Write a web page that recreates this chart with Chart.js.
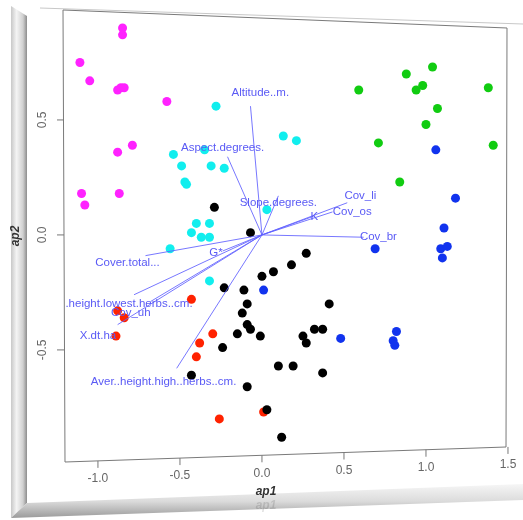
<!DOCTYPE html>
<html>
<head>
<meta charset="utf-8">
<script src="https://cdn.jsdelivr.net/npm/chart.js@4"></script>
<style>
  html, body { margin: 0; padding: 0; background: #fff; }
  #wrap { width: 523px; height: 520px; }
</style>
</head>
<body>
<div id="wrap"><canvas id="chart" width="523" height="520"></canvas></div>
<script>
// site scores, one pair of arrays per group
var magentaX = [-0.85, -0.85, -1.11, -1.05, -0.88, -0.86, -0.84, -0.58, -0.79, -0.88, -1.10, -1.08, -0.87];
var magentaY = [0.90, 0.87, 0.75, 0.67, 0.63, 0.64, 0.64, 0.58, 0.39, 0.36, 0.18, 0.13, 0.18];

var cyanX = [-0.28, -0.54, -0.35, -0.49, -0.31, -0.23, -0.47, -0.46, -0.40, -0.32, -0.43, -0.37, -0.32, -0.56, 0.03, 0.13, 0.21, -0.32];
var cyanY = [0.56, 0.35, 0.37, 0.30, 0.30, 0.29, 0.23, 0.22, 0.05, 0.05, 0.01, -0.01, -0.01, -0.06, 0.11, 0.43, 0.41, -0.20];

var greenX = [0.59, 0.88, 1.04, 0.94, 0.98, 1.38, 1.07, 1.00, 0.71, 1.41, 0.84];
var greenY = [0.63, 0.70, 0.73, 0.63, 0.65, 0.64, 0.55, 0.48, 0.40, 0.39, 0.23];

var blueX = [1.06, 1.18, 1.11, 0.69, 1.09, 1.13, 1.10, 0.01, 0.48, 0.82, 0.80, 0.81];
var blueY = [0.37, 0.16, 0.03, -0.06, -0.06, -0.05, -0.10, -0.24, -0.45, -0.42, -0.46, -0.48];

var blackX = [-0.29, -0.07, 0.00, -0.23, -0.11, -0.09, -0.12, -0.09, -0.07, -0.15, -0.01, -0.24, -0.43, -0.09, 0.03,
              0.27, 0.18, 0.07, 0.41, 0.32, 0.37, 0.25, 0.27, 0.10, 0.19, 0.37, 0.12];
var blackY = [0.12, 0.01, -0.18, -0.23, -0.24, -0.30, -0.34, -0.39, -0.41, -0.43, -0.44, -0.49, -0.61, -0.66, -0.76,
              -0.08, -0.13, -0.16, -0.30, -0.41, -0.41, -0.44, -0.47, -0.57, -0.57, -0.60, -0.88];

var redX = [-0.43, -0.88, -0.84, -0.89, -0.30, -0.38, -0.40, -0.26, 0.01];
var redY = [-0.28, -0.33, -0.36, -0.44, -0.43, -0.47, -0.53, -0.80, -0.77];

// variable loadings (arrow ends) and where their names sit
var varNames = ['Altitude..m.', 'Aspect.degrees.', 'Slope.degrees.', 'Cov_li', 'Cov_os', 'K', 'Cov_br',
                'Cover.total...', 'G*', 'Aver..height.lowest.herbs..cm.', 'Cov_uh', 'X.dt.ha',
                'Aver..height.high..herbs..cm.'];
var varX = [-0.07, -0.21, 0.10, 0.52, 0.43, 0.31, 0.62, -0.71, -0.24, -0.78, -0.68, -0.88, -0.52];
var varY = [0.56, 0.34, 0.17, 0.14, 0.10, 0.08, -0.01, -0.09, -0.07, -0.26, -0.29, -0.39, -0.58];
var labelX = [-0.01, -0.24, 0.10, 0.60, 0.55, 0.32, 0.71, -0.82, -0.28, -0.89, -0.80, -1.00, -0.60];
var labelY = [0.62, 0.38, 0.14, 0.17, 0.10, 0.08, -0.01, -0.12, -0.08, -0.30, -0.34, -0.44, -0.64];

var xTicks = [-1.0, -0.5, 0.0, 0.5, 1.0, 1.5];
var yTicks = [0.5, 0.0, -0.5];

function pts(xs, ys) {
  return xs.map(function (x, i) { return { x: x, y: ys[i] }; });
}

function dots(xs, ys, color) {
  return {
    type: 'scatter',
    data: pts(xs, ys),
    backgroundColor: color,
    borderColor: color,
    borderWidth: 0,
    pointRadius: 4.5,
    order: 1
  };
}

var datasets = [];
varNames.forEach(function (name, i) {
  datasets.push({
    type: 'line',
    label: name,
    data: [{ x: 0, y: 0 }, { x: varX[i], y: varY[i] }],
    borderColor: 'rgba(95,95,255,0.85)',
    borderWidth: 1,
    pointRadius: 0,
    fill: false,
    order: 0
  });
});
datasets.push(dots(magentaX, magentaY, '#ff22ff'));
datasets.push(dots(cyanX, cyanY, '#11eeee'));
datasets.push(dots(greenX, greenY, '#11cc11'));
datasets.push(dots(blueX, blueY, '#1133ee'));
datasets.push(dots(blackX, blackY, '#000000'));
datasets.push(dots(redX, redY, '#ff2200'));

// box corners (slightly tilted like the photo)
var TL = [63, 10], TR = [507, 28], BR = [506, 447], BL = [65, 462];

var framePlugin = {
  id: 'frame',
  beforeDraw: function (chart) {
    var c = chart.ctx;
    c.save();
    c.fillStyle = '#fff';
    c.fillRect(0, 0, chart.width, chart.height);

    // left bevel
    var g = c.createLinearGradient(11, 0, 27, 0);
    g.addColorStop(0, '#c8c8c8');
    g.addColorStop(0.35, '#f4f4f4');
    g.addColorStop(0.75, '#d0d0d0');
    g.addColorStop(1, '#8c8c8c');
    c.fillStyle = g;
    c.beginPath();
    c.moveTo(11, 6); c.lineTo(27, 16); c.lineTo(27, 503); c.lineTo(11, 518);
    c.closePath(); c.fill();

    // bottom bevel
    var g2 = c.createLinearGradient(0, 484, 0, 518);
    g2.addColorStop(0, '#f6f6f6');
    g2.addColorStop(0.5, '#dcdcdc');
    g2.addColorStop(1, '#9a9a9a');
    c.fillStyle = g2;
    c.beginPath();
    c.moveTo(11, 518); c.lineTo(27, 503); c.lineTo(523, 484); c.lineTo(523, 500);
    c.closePath(); c.fill();

    // top edge line
    c.strokeStyle = '#c8c8c8';
    c.lineWidth = 1.2;
    c.beginPath(); c.moveTo(40, 8); c.lineTo(523, 24); c.stroke();

    // plot box
    c.strokeStyle = '#7a7a7a';
    c.lineWidth = 1;
    c.beginPath();
    c.moveTo(TL[0], TL[1]); c.lineTo(TR[0], TR[1]); c.lineTo(BR[0], BR[1]); c.lineTo(BL[0], BL[1]);
    c.closePath(); c.stroke();
    c.restore();
  },
  afterDatasetsDraw: function (chart) {
    var c = chart.ctx;
    var xs = chart.scales.x, ys = chart.scales.y;
    var a = chart.chartArea;
    c.save();

    // variable names, clipped to the plot region
    c.beginPath();
    c.rect(a.left + 1, a.top - 6, a.right - a.left, a.bottom - a.top + 6);
    c.clip();
    c.font = '11.5px "Liberation Sans", Arial, sans-serif';
    c.fillStyle = '#5a5af5';
    c.textAlign = 'center';
    c.textBaseline = 'middle';
    varNames.forEach(function (name, i) {
      c.fillText(name, xs.getPixelForValue(labelX[i]), ys.getPixelForValue(labelY[i]));
    });
    c.restore();

    c.save();
    c.strokeStyle = '#777';
    c.fillStyle = '#666';
    c.lineWidth = 1;
    c.font = '12px "Liberation Sans", Arial, sans-serif';
    c.textAlign = 'center';
    c.textBaseline = 'middle';
    xTicks.forEach(function (v) {
      var px = xs.getPixelForValue(v);
      var base = BL[1] + (px - BL[0]) * (BR[1] - BL[1]) / (BR[0] - BL[0]);
      c.beginPath(); c.moveTo(px, base); c.lineTo(px, base + 7); c.stroke();
      c.fillText(v.toFixed(1), px, base + 18);
    });
    yTicks.forEach(function (v) {
      var py = ys.getPixelForValue(v);
      c.beginPath(); c.moveTo(64, py); c.lineTo(57, py); c.stroke();
      c.save();
      c.translate(43, py);
      c.rotate(-Math.PI / 2);
      c.fillText(v.toFixed(1), 0, 0);
      c.restore();
    });

    // axis titles
    c.fillStyle = '#333';
    c.font = 'italic bold 12px "Liberation Sans", Arial, sans-serif';
    c.fillText('ap1', 266, 492);
    c.fillStyle = 'rgba(0,0,0,0.12)';
    c.fillText('ap1', 266, 506);
    c.fillStyle = '#333';
    c.save();
    c.translate(16, 236);
    c.rotate(-Math.PI / 2);
    c.fillText('ap2', 0, 0);
    c.restore();
    c.restore();
  }
};

var ctx = document.getElementById('chart').getContext('2d');
var chart = new Chart(ctx, {
  type: 'scatter',
  data: { datasets: datasets },
  options: {
    responsive: false,
    devicePixelRatio: 1,
    animation: false,
    layout: { padding: { left: 64, right: 16, top: 16, bottom: 62 } },
    plugins: { legend: { display: false }, tooltip: { enabled: false } },
    scales: {
      x: { type: 'linear', min: -1.207, max: 1.494, display: false },
      y: { type: 'linear', min: -0.97, max: 0.952, display: false }
    }
  },
  plugins: [framePlugin]
});
</script>
</body>
</html>
